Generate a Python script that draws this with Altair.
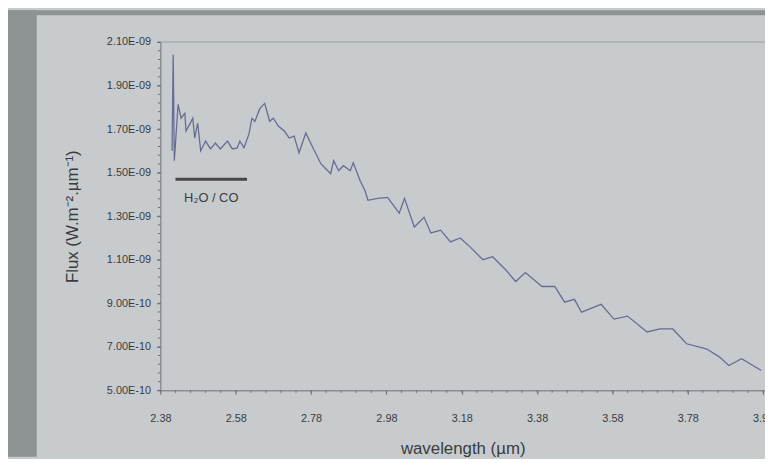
import altair as alt
import pandas as pd

# wavelength (µm) and flux (in units of 1e-9 W m^-2 µm^-1)
WAVELENGTH = [2.411, 2.414, 2.417, 2.427, 2.435, 2.445, 2.448, 2.458, 2.466, 2.471,
              2.479, 2.487, 2.500, 2.513, 2.526, 2.539, 2.558, 2.571, 2.584, 2.591,
              2.602, 2.615, 2.623, 2.631, 2.644, 2.657, 2.670, 2.680, 2.693, 2.709,
              2.722, 2.735, 2.748, 2.766, 2.785, 2.806, 2.819, 2.832, 2.840, 2.853,
              2.866, 2.884, 2.892, 2.910, 2.923, 2.931, 2.957, 2.983, 3.014, 3.028,
              3.054, 3.080, 3.098, 3.124, 3.150, 3.176, 3.202, 3.236, 3.262, 3.296,
              3.323, 3.349, 3.393, 3.427, 3.453, 3.479, 3.498, 3.550, 3.584, 3.620,
              3.672, 3.706, 3.740, 3.777, 3.829, 3.863, 3.889, 3.923, 3.975]
FLUX_E9 = [1.600, 2.041, 1.555, 1.814, 1.750, 1.773, 1.691, 1.723, 1.750, 1.659,
           1.727, 1.600, 1.645, 1.609, 1.636, 1.609, 1.645, 1.609, 1.614, 1.645,
           1.614, 1.677, 1.750, 1.736, 1.795, 1.818, 1.736, 1.750, 1.714, 1.691,
           1.659, 1.668, 1.591, 1.682, 1.614, 1.541, 1.518, 1.495, 1.555, 1.509,
           1.532, 1.509, 1.545, 1.464, 1.418, 1.373, 1.382, 1.386, 1.314, 1.382,
           1.250, 1.295, 1.223, 1.236, 1.182, 1.200, 1.159, 1.100, 1.114, 1.055,
           1.000, 1.041, 0.977, 0.977, 0.905, 0.918, 0.859, 0.895, 0.827, 0.841,
           0.768, 0.782, 0.782, 0.714, 0.691, 0.655, 0.614, 0.645, 0.591]

X_TICKS = [2.38, 2.58, 2.78, 2.98, 3.18, 3.38, 3.58, 3.78, 3.98]
Y_TICKS = [0.5, 0.7, 0.9, 1.1, 1.3, 1.5, 1.7, 1.9, 2.1]
X_MINOR = [round(2.38 + 0.04 * i, 2) for i in range(41)]
Y_MINOR = [round(0.5 + 0.04 * i, 2) for i in range(41)]

BAND_LABEL = "H\u2082O / CO"
BAND_START = [2.42]
BAND_END = [2.61]
BAND_LEVEL = [1.47]
BAND_TEXT_Y = [1.385]

X_DOMAIN = [2.38, 3.985]
Y_DOMAIN = [0.5, 2.1]

PANEL = "#c8cbcd"
BEZEL = "#8d9292"
TEXT = "#383b40"
AXISC = "#6c7075"
LINE = "#666c95"
FONT = "Liberation Sans"

W, H = 611, 352

xs = alt.Scale(domain=X_DOMAIN, nice=False, zero=False)
ys = alt.Scale(domain=Y_DOMAIN, nice=False, zero=False)

AX = alt.Axis(values=X_TICKS, labelExpr="format(datum.value, '.2f')",
              title="wavelength (\u00b5m)", grid=False, tickSize=4,
              labelPadding=18, titlePadding=18, labelFontSize=11,
              titleFontSize=17, titleFontWeight="normal",
              labelFont=FONT, titleFont=FONT, labelColor=TEXT,
              titleColor=TEXT, domainColor=AXISC, tickColor=AXISC,
              labelFlush=False, labelOverlap=False)
AY = alt.Axis(values=Y_TICKS,
              labelExpr="replace(replace(format(datum.value * 1e-9, '.2e'), 'e-9', 'E-09'), 'e-10', 'E-10')",
              title="Flux (W.m\u207b\u00b2.\u00b5m\u207b\u00b9)", grid=False, tickSize=4,
              labelPadding=6, titlePadding=25, labelFontSize=11,
              titleFontSize=17, titleFontWeight="normal",
              labelFont=FONT, titleFont=FONT, labelColor=TEXT,
              titleColor=TEXT, domainColor=AXISC, tickColor=AXISC,
              labelOverlap=False)

df = pd.DataFrame({"wavelength": WAVELENGTH, "flux": FLUX_E9})
one = pd.DataFrame({"k": [0]})

line = alt.Chart(df).mark_line(color=LINE, strokeWidth=1.3).encode(
    x=alt.X("wavelength:Q", scale=xs, axis=AX),
    y=alt.Y("flux:Q", scale=ys, axis=AY),
)

yminor = alt.Chart(pd.DataFrame({"flux": Y_MINOR})).mark_rule(color=AXISC, strokeWidth=1).encode(
    y=alt.Y("flux:Q", scale=ys, axis=AY), x=alt.value(-2.5), x2=alt.value(0))
xminor = alt.Chart(pd.DataFrame({"wavelength": X_MINOR})).mark_rule(color=AXISC, strokeWidth=1).encode(
    x=alt.X("wavelength:Q", scale=xs, axis=AX), y=alt.value(H), y2=alt.value(H + 2.5))

band = alt.Chart(pd.DataFrame({"wavelength": BAND_START, "wavelength_end": BAND_END,
                               "flux": BAND_LEVEL})).mark_rule(
    color="#4a4548", strokeWidth=3).encode(
    x=alt.X("wavelength:Q", scale=xs, axis=AX), x2="wavelength_end:Q",
    y=alt.Y("flux:Q", scale=ys, axis=AY))
band_text = alt.Chart(pd.DataFrame({"wavelength": [(BAND_START[0] + BAND_END[0]) / 2],
                                    "flux": BAND_TEXT_Y, "t": [BAND_LABEL]})).mark_text(
    font=FONT, fontSize=13, color=TEXT).encode(
    x=alt.X("wavelength:Q", scale=xs, axis=AX), y=alt.Y("flux:Q", scale=ys, axis=AY), text="t:N")

top_rule = alt.Chart(one).mark_rule(color="#9a9fa3", strokeWidth=1).encode(
    x=alt.value(0), x2=alt.value(W), y=alt.value(0))
bezel_left = alt.Chart(one).mark_rect(color=BEZEL).encode(
    x=alt.value(-154), x2=alt.value(-125), y=alt.value(-32), y2=alt.value(H + 67))
bezel_top = alt.Chart(one).mark_rect(color=BEZEL).encode(
    x=alt.value(-154), x2=alt.value(W), y=alt.value(-32), y2=alt.value(-27))

chart = alt.layer(line, bezel_left, bezel_top, top_rule, yminor, xminor, band, band_text).properties(
    width=W, height=H,
    padding={"left": 154, "top": 32, "right": 0, "bottom": 67},
    autosize=alt.AutoSizeParams(type="none"),
    background=PANEL,
).configure_view(stroke=None, fill=PANEL)

chart.save("out.html", embed_options={"renderer": "svg", "actions": False})
